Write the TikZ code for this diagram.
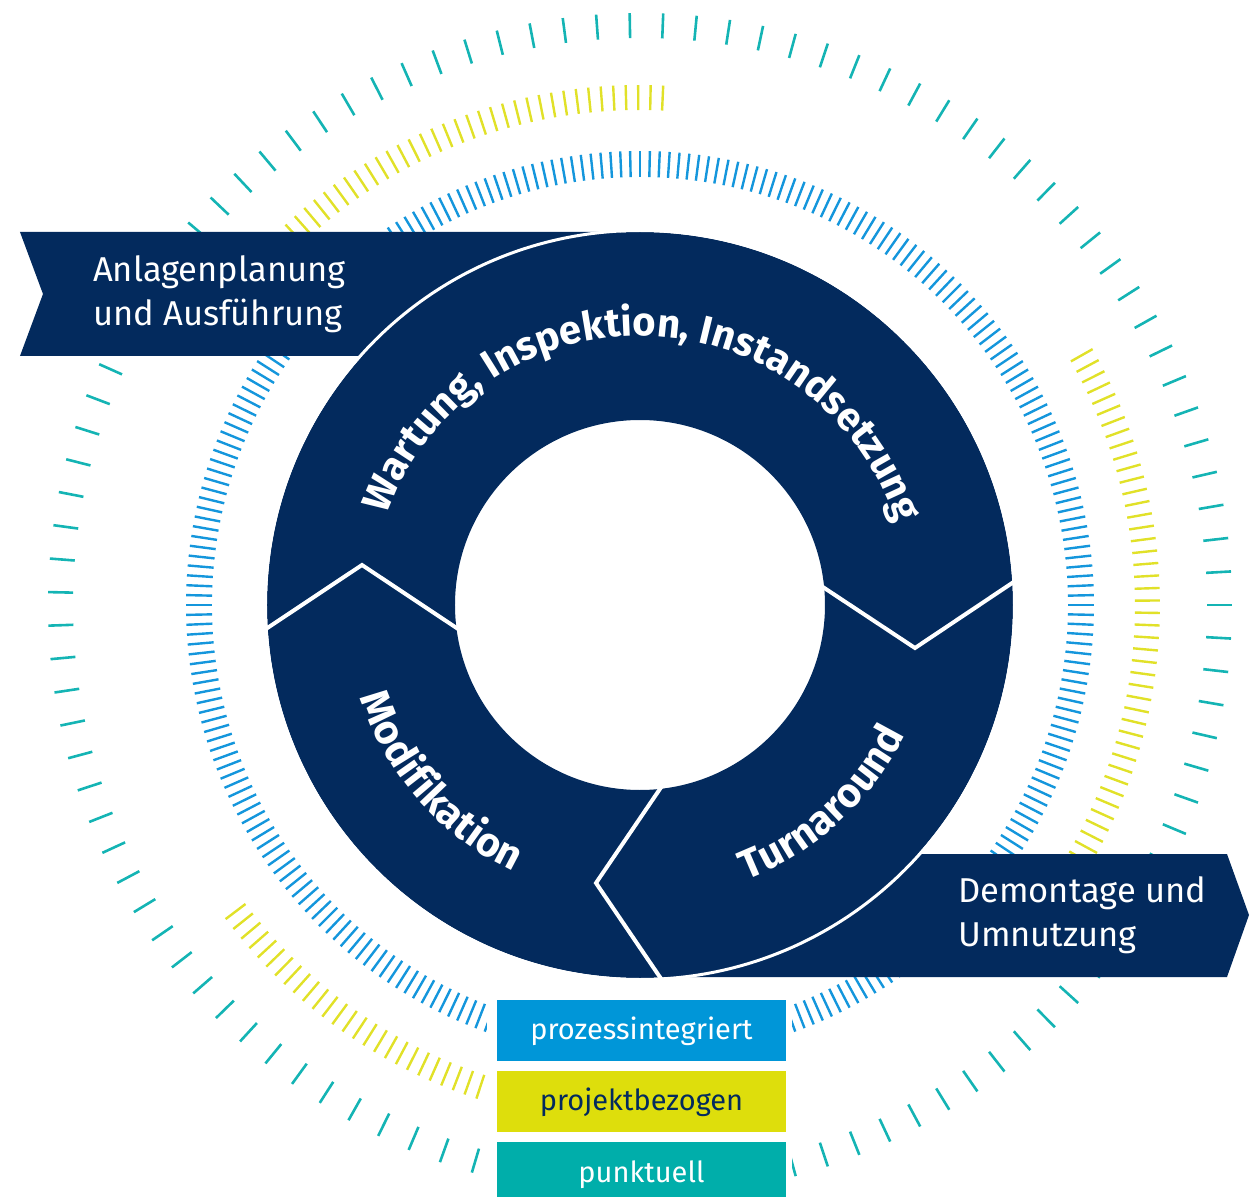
\documentclass[tikz,border=0pt]{standalone}
\usepackage{fontspec}
\setmainfont{Fira Sans}
\usetikzlibrary{decorations.text,calc}
\definecolor{navy}{RGB}{3,42,93}
\definecolor{tickblue}{RGB}{20,150,220}
\definecolor{tickyellow}{RGB}{225,225,40}
\definecolor{tickteal}{RGB}{20,180,180}
\definecolor{legblue}{RGB}{0,150,216}
\definecolor{legyellow}{RGB}{222,222,12}
\definecolor{legteal}{RGB}{0,174,170}
\begin{document}
\begin{tikzpicture}[x=1pt,y=1pt,
  bluetick/.style={draw=tickblue, line width=2.4pt},
  yellowtick/.style={draw=tickyellow, line width=2.4pt},
  tealtick/.style={draw=tickteal, line width=2.6pt},
  banner/.style={fill=navy},
  bannertext/.style={text=white, align=left, inner sep=0pt, font=\fontsize{34.5}{44}\selectfont},
  divider/.style={draw=white, line width=4pt, line join=miter},
  legbox/.style={minimum width=289pt, minimum height=61pt, inner sep=0pt, text height=18pt, text depth=0pt, font=\fontsize{29}{29}\selectfont},
  ringtext/.style 2 args={decorate, decoration={text along path, text align=center, text color=white, text={|\fontsize{#1}{#1}\selectfont\bfseries|#2}}}
]
\useasboundingbox (-640,-592) rectangle (616,605);

% outer teal ticks
\foreach \i in {-27,...,83} \draw[tealtick] ({\i*3.25}:567) -- ({\i*3.25}:592);
% blue ticks
\foreach \i in {0,...,287} \draw[bluetick] ({\i*1.25}:428) -- ({\i*1.25}:454);
% yellow tick arcs
\foreach \i in {63,...,101} \draw[yellowtick] ({0.5+\i*1.38}:495) -- ({0.5+\i*1.38}:520);
\foreach \i in {-29,...,21} \draw[yellowtick] ({0.5+\i*1.38}:495) -- ({0.5+\i*1.38}:520);
\foreach \i in {157,...,184} \draw[yellowtick] ({0.5+\i*1.38}:495) -- ({0.5+\i*1.38}:520);

% banners
\fill[banner] (-620,373) -- (-20,373) -- (-20,249) -- (-620,249) -- (-597,311) -- cycle;
\fill[banner] (20,-249) -- (587,-249) -- (609,-310) -- (587,-372) -- (20,-372) -- cycle;

% ring
\fill[navy, even odd rule] (0,0) circle[radius=373] (0,0) circle[radius=185];
\draw[white, line width=3pt] (0,0) circle[radius=374.5];

% dividers
\coordinate (lA) at (183.5:373);
\coordinate (lB) at (-278,40);
\coordinate (lC) at (187.1:185);
\coordinate (rA) at (3.4:373);
\coordinate (rB) at (275,-43);
\coordinate (rC) at (5.3:185);
\coordinate (bA) at (-86.9:373);
\coordinate (bB) at (-44,-278);
\coordinate (bC) at (-83.8:185);
\draw[divider] ($(lB)!1.04!(lA)$) -- (lB) -- ($(lB)!1.06!(lC)$);
\draw[divider] ($(rB)!1.04!(rA)$) -- (rB) -- ($(rB)!1.06!(rC)$);
\draw[divider] ($(bB)!1.04!(bA)$) -- (bB) -- ($(bB)!1.06!(bC)$);

% ring labels
\path[ringtext={40}{Wartung, Inspektion, Instandsetzung}] (178:269) arc[start angle=178, end angle=0, radius=269];
\path[ringtext={41}{Modifikation}] (190:295) arc[start angle=190, end angle=253, radius=295];
\path[ringtext={41}{Turnaround}] (-80:295) arc[start angle=-80, end angle=-15, radius=295];

% banner texts (anchor on the baseline of the last line)
\node[bannertext, anchor=base west] (plan) at (-547,279) {Anlagenplanung\\und Ausführung};
\node[bannertext, anchor=base west] (demo) at (318,-341) {Demontage und\\Umnutzung};

% legend
\fill[white] (-153,-385) rectangle (152,-592);
\node[legbox, fill=legblue, text=white] (proz) at (1.5,-425.5) {prozessintegriert};
\node[legbox, fill=legyellow, text=navy] (proj) at (1.5,-496.5) {projektbezogen};
\node[legbox, fill=legteal, text=white, minimum height=55pt, text height=25pt] (punk) at (1.5,-564.5) {punktuell};
\end{tikzpicture}
\end{document}
